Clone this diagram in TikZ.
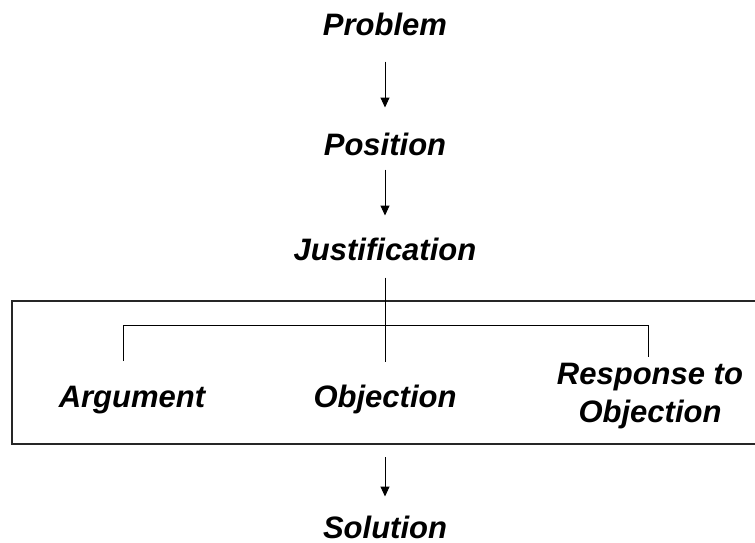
\documentclass[tikz,border=0pt]{standalone}
\usepackage{fontspec}
\setmainfont{Liberation Sans}
\usetikzlibrary{arrows.meta}

\tikzset{
    stage/.style={inner sep=0pt, text height=22pt, text depth=6pt,
        font=\fontsize{31}{38}\selectfont\bfseries\itshape},
    flow/.style={-{Triangle[width=9pt,length=10pt]}, line width=1pt}
}

\begin{document}
\begin{tikzpicture}[x=1pt, y=-1pt, line width=1pt]
    \useasboundingbox (0,0) rectangle (755,542);

    % The chain of stages
    \node[stage] (problem) at (385,27) {Problem};
    \node[stage] (position) at (385,147) {Position};
    \node[stage] (justification) at (385,252) {Justification};
    \node[stage] (solution) at (385,530) {Solution};

    \draw[flow, shorten <=20pt, shorten >=25pt] (problem) -- (position);
    \draw[flow, shorten <=8pt, shorten >=22pt] (position) -- (justification);

    % The frame holding the three parts
    \draw[line width=1.2pt, black!85] (12,301) rectangle (758,444);
    \coordinate (frameS) at (385,444);

    \node[stage] (argument) at (132,399) {Argument};
    \node[stage] (objection) at (385,399) {Objection};
    \node[stage, text height=, text depth=, align=center] (response) at (650,396)
        {Response to\\Objection};

    % Bracket from justification to the parts
    \coordinate (barL) at (123,325);
    \coordinate (barR) at (648,325);
    \draw[shorten <=11pt, shorten >=23pt] (justification) -- (objection);
    \draw (123,361) -- (barL) -- (barR) -- (648,357);

    \draw[flow, shorten <=13pt, shorten >=19pt] (frameS) -- (solution);
\end{tikzpicture}
\end{document}
